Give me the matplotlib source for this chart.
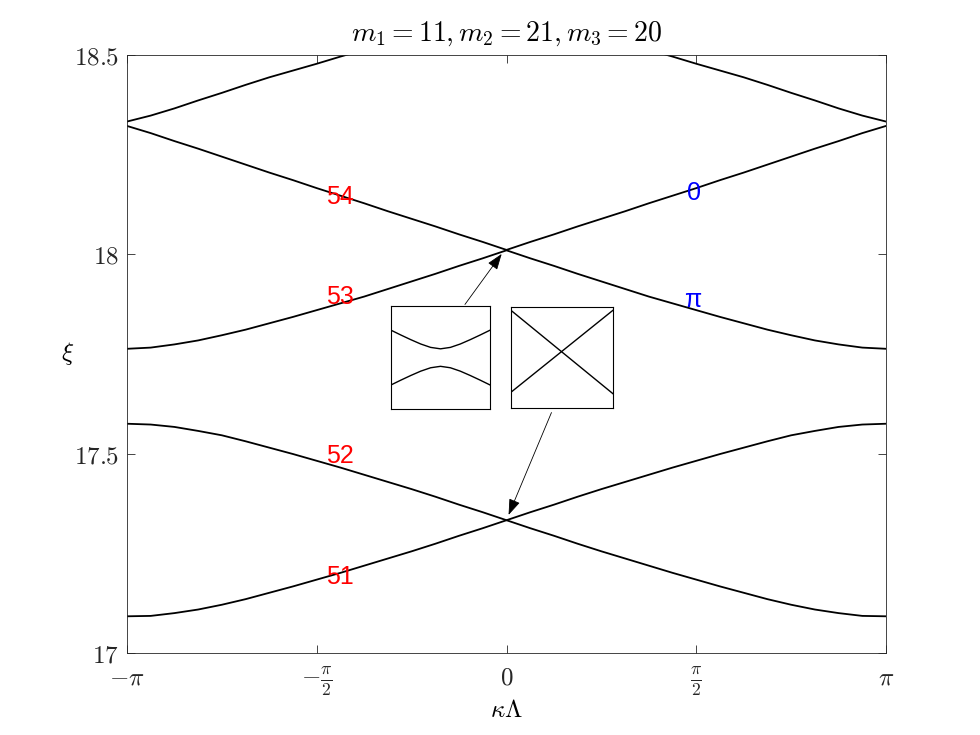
import numpy as np
import matplotlib
matplotlib.use('Agg')
import matplotlib.pyplot as plt

plt.rcParams['mathtext.fontset'] = 'cm'
plt.rcParams['font.family'] = ['Liberation Sans', 'DejaVu Sans']

# kappa*Lambda grid, in units of pi (steps of pi/16)
kappa_frac = [-1, -0.9375, -0.875, -0.8125, -0.75, -0.6875, -0.625, -0.5625, -0.5,
              -0.4375, -0.375, -0.3125, -0.25, -0.1875, -0.125, -0.0625, 0,
              0.0625, 0.125, 0.1875, 0.25, 0.3125, 0.375, 0.4375, 0.5,
              0.5625, 0.625, 0.6875, 0.75, 0.8125, 0.875, 0.9375, 1]
kappa = np.pi * np.array(kappa_frac)

# bands
band51 = [17.092, 17.093, 17.100, 17.109, 17.121, 17.135, 17.151, 17.167, 17.184,
          17.201, 17.219, 17.237, 17.255, 17.274, 17.294, 17.313, 17.333,
          17.313, 17.294, 17.274, 17.255, 17.237, 17.219, 17.201, 17.184,
          17.167, 17.151, 17.135, 17.121, 17.109, 17.100, 17.093, 17.092]
band52 = [17.575, 17.573, 17.567, 17.557, 17.546, 17.531, 17.515, 17.499, 17.482,
          17.465, 17.447, 17.429, 17.411, 17.392, 17.372, 17.353, 17.333,
          17.353, 17.372, 17.392, 17.411, 17.429, 17.447, 17.465, 17.482,
          17.499, 17.515, 17.531, 17.546, 17.557, 17.567, 17.573, 17.575]
band53 = [17.763, 17.766, 17.774, 17.784, 17.797, 17.811, 17.827, 17.843, 17.860,
          17.877, 17.894, 17.913, 17.932, 17.951, 17.971, 17.990, 18.010,
          17.990, 17.971, 17.951, 17.932, 17.913, 17.894, 17.877, 17.860,
          17.843, 17.827, 17.811, 17.797, 17.784, 17.774, 17.766, 17.763]
band54 = [18.322, 18.304, 18.284, 18.265, 18.245, 18.225, 18.205, 18.186, 18.166,
          18.147, 18.128, 18.108, 18.089, 18.070, 18.050, 18.031, 18.011,
          18.031, 18.050, 18.070, 18.089, 18.108, 18.128, 18.147, 18.166,
          18.186, 18.205, 18.225, 18.245, 18.265, 18.284, 18.304, 18.322]
band55 = [18.333, 18.348, 18.366, 18.386, 18.405, 18.425, 18.444, 18.461, 18.478,
          18.496, 18.513, np.nan, np.nan, np.nan, np.nan, np.nan, np.nan,
          np.nan, np.nan, np.nan, np.nan, np.nan, 18.513, 18.496, 18.478,
          18.461, 18.444, 18.425, 18.405, 18.386, 18.366, 18.348, 18.333]
bands = [band51, band52, band53, band54, band55]

band_labels = ['51', '52', '53', '54']
band_label_pos = [(-1.378, 17.191), (-1.378, 17.494), (-1.378, 17.893), (-1.378, 18.144)]
mode_labels = ['0', 'π']
mode_label_pos = [(1.552, 18.154), (1.544, 17.885)]

# zoomed insets
inset_x = [-1, -0.8, -0.6, -0.4, -0.2, 0, 0.2, 0.4, 0.6, 0.8, 1]
gap_upper = [0.766, 0.719, 0.674, 0.632, 0.599, 0.585, 0.599, 0.632, 0.674, 0.719, 0.766]
gap_lower = [0.234, 0.281, 0.326, 0.368, 0.401, 0.415, 0.401, 0.368, 0.326, 0.281, 0.234]
cross_x = [-1, 1]
cross_a = [0.967, 0.142]
cross_b = [0.156, 0.967]

fig = plt.figure(figsize=(9.8, 7.35), dpi=100)
ax = fig.add_axes([0.1296, 0.1116, 0.7745, 0.8136])

for b in bands:
    ax.plot(kappa, b, color='k', lw=1.3)

ax.set_xlim(-np.pi, np.pi)
ax.set_ylim(17, 18.5)
ax.set_xticks(np.pi * np.array([-1, -0.5, 0, 0.5, 1]))
ax.set_xticklabels([r'$-\pi$', r'$-\frac{\pi}{2}$', r'$0$', r'$\frac{\pi}{2}$', r'$\pi$'])
ax.set_yticks([17, 17.5, 18, 18.5])
ax.set_yticklabels([r'$17$', r'$17.5$', r'$18$', r'$18.5$'])
ax.tick_params(direction='in', top=True, right=True, length=6, width=0.6,
               color='0.15', labelsize=18, labelcolor='0.15')
ax.tick_params(axis='x', pad=9)
ax.tick_params(axis='y', pad=6)
for s in ax.spines.values():
    s.set_linewidth(0.6)
    s.set_color('0.15')

ax.set_title(r'$m_1 = 11, m_2 = 21, m_3 = 20$', fontsize=20, pad=10)
ax.set_xlabel(r'$\kappa\Lambda$', fontsize=18, labelpad=0)
ax.set_ylabel(r'$\xi$', fontsize=18, rotation=0, labelpad=4, va='center')

for t, (x, y) in zip(band_labels, band_label_pos):
    ax.text(x, y, t, color='red', fontsize=18, ha='center', va='center')
for t, (x, y) in zip(mode_labels, mode_label_pos):
    ax.text(x, y, t, color='blue', fontsize=18, ha='center', va='center')

# arrows from the insets to the crossings
head = '-|>,head_length=0.7,head_width=0.25'
ax.annotate('', xy=(-0.0265, 18.0066), xytext=(-0.3576, 17.8686),
            arrowprops=dict(arrowstyle=head, lw=0.6, color='k', mutation_scale=14))
ax.annotate('', xy=(0.0083, 17.3399), xytext=(0.381, 17.6095),
            arrowprops=dict(arrowstyle=head, lw=0.6, color='k', mutation_scale=14))

ins1 = fig.add_axes([0.399, 0.4435, 0.101, 0.140])
ins1.plot(inset_x, gap_upper, color='k', lw=1.0)
ins1.plot(inset_x, gap_lower, color='k', lw=1.0)
ins2 = fig.add_axes([0.5214, 0.4449, 0.104, 0.1374])
ins2.plot(cross_x, cross_a, color='k', lw=1.0)
ins2.plot(cross_x, cross_b, color='k', lw=1.0)
for a in (ins1, ins2):
    a.set_xlim(-1, 1)
    a.set_ylim(0, 1)
    a.set_xticks([])
    a.set_yticks([])
    for s in a.spines.values():
        s.set_linewidth(0.8)

fig.savefig('out.png', dpi=100)
